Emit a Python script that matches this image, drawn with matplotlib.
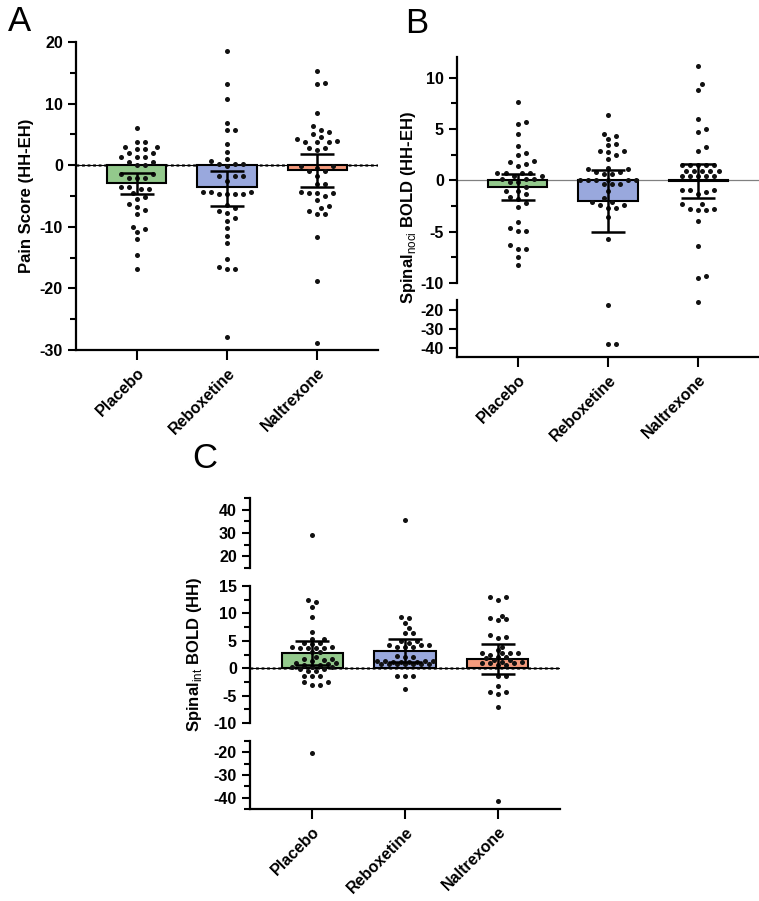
import numpy as np
from matplotlib import pyplot as plt
from matplotlib.ticker import MultipleLocator

plt.rcParams['font.family'] = ['Liberation Sans', 'DejaVu Sans']
plt.rcParams['mathtext.fontset'] = 'custom'
plt.rcParams['mathtext.rm'] = 'Liberation Sans'
plt.rcParams['mathtext.bf'] = 'Liberation Sans:bold'
plt.rcParams['axes.unicode_minus'] = False

groups = ["Placebo", "Reboxetine", "Naltrexone"]
colors = ["#93c98c", "#99a8dd", "#f59b7d"]

# panel A: pain score (HH-EH)
pain_placebo = [6.0, 3.7, 3.7, 3.0, 3.0, 2.6, 2.6, 2.0, 2.0, 1.4, 1.4, 1.4, 0.6, 0.6, 0.0, 0.0,
                -1.4, -2.0, -2.0, -2.0, -1.4, -3.5, -3.5, -3.9, -3.9, -4.5, -5.5, -5.2, -6.3,
                -6.8, -7.2, -7.9, -10.0, -10.3, -10.9, -12.0, -14.5, -16.9]
pain_reboxetine = [18.5, 13.2, 10.7, 6.8, 5.7, 5.7, 3.45, 2.2, 1.0, 0.7, 0.2, 0.2, 0.2, -0.2,
                   -1.7, -1.7, -1.7, -2.5, -4.3, -4.3, -4.3, -4.65, -4.65, -4.65, -4.65, -6.4,
                   -7.0, -7.5, -7.8, -8.5, -9.0, -10.2, -11.5, -12.6, -15.2, -16.6, -16.8,
                   -16.8, -27.9]
pain_naltrexone = [15.3, 13.4, 13.2, 8.5, 6.3, 5.7, 5.4, 5.0, 4.6, 4.3, 4.0, 3.7, 3.7, 3.7,
                   2.75, 2.75, 2.4, -0.2, -0.2, -0.4, -1.0, -1.0, -1.7, -3.0, -3.0, -4.3, -4.5,
                   -4.5, -4.5, -5.0, -5.7, -6.7, -7.0, -7.5, -7.9, -7.9, -11.7, -18.8, -28.9]
pain_mean = [-2.85, -3.6, -0.75]
pain_lo = [-4.75, -6.6, -3.6]
pain_hi = [-1.25, -0.9, 1.8]

# panel B: spinal noci BOLD (HH-EH)
noci_placebo = [7.6, 5.65, 5.5, 4.5, 3.3, 2.7, 2.45, 1.9, 1.8, 1.6, 1.4, 0.75, 0.75, 0.75, 0.75,
                0.4, 0.4, 0.1, 0.1, 0.1, -0.2, -0.2, -0.65, -1.0, -1.0, -1.35, -1.6, -1.8, -2.2,
                -2.6, -4.05, -4.65, -4.9, -4.9, -6.3, -6.65, -6.65, -7.45, -8.25]
noci_reboxetine = [6.35, 4.55, 4.35, 4.05, 3.55, 3.4, 2.85, 2.85, 2.75, 2.5, 2.1, 1.2, 1.05, 1.05,
                   0.8, 0.8, 0.6, 0.6, 0.0, 0.0, 0.0, 0.0, 0.0, 0.0, -0.4, -0.4, -0.4, -1.0,
                   -1.7, -2.1, -2.1, -2.4, -2.4, -2.7, -2.7, -3.6, -5.7, -17.6, -38.0, -38.0]
noci_naltrexone = [11.15, 9.4, 8.8, 6.0, 5.0, 4.7, 3.25, 2.85, 1.5, 1.5, 1.5, 1.5, 1.5, 0.95, 0.95,
                   0.95, 0.95, 0.95, 0.4, 0.4, 0.4, 0.4, 0.4, -0.9, -0.95, -0.95, -1.1, -1.35,
                   -2.3, -2.3, -2.75, -2.75, -2.9, -2.9, -4.0, -6.4, -9.3, -9.55, -15.8]
noci_mean = [-0.65, -2.0, -0.05]
noci_lo = [-1.9, -5.0, -1.7]
noci_hi = [0.6, 1.0, 1.55]

# panel C: spinal int BOLD (HH)
int_placebo = [29.3, 12.45, 12.0, 11.1, 9.4, 6.55, 5.35, 5.35, 4.55, 4.55, 4.4, 3.95, 3.95, 3.65,
               3.65, 3.65, 3.65, 2.9, 2.9, 2.1, 1.6, 1.6, 1.5, 1.4, 0.9, 0.9, 0.85, 0.6, 0.6,
               0.3, 0.3, 0.3, -0.2, -0.2, -0.6, -0.6, -1.4, -1.5, -1.5, -2.55, -2.55, -3.05,
               -3.05, -20.3]
int_reboxetine = [35.4, 9.4, 9.1, 8.2, 7.3, 6.4, 6.4, 4.9, 4.9, 4.6, 4.25, 4.25, 4.25, 3.95, 3.95,
                  3.95, 2.3, 2.0, 2.0, 1.4, 1.4, 1.4, 1.4, 1.2, 1.2, 1.2, 1.2, 0.8, 0.8, 0.8, 0.8,
                  0.8, 0.8, 0.8, -1.4, -1.4, -1.4, -3.8]
int_naltrexone = [12.95, 12.95, 12.45, 9.6, 9.1, 9.0, 8.8, 6.1, 5.75, 5.6, 3.95, 3.35, 2.7, 2.7,
                  2.7, 2.7, 2.4, 2.1, 2.1, 1.8, 1.5, 1.5, 1.2, 1.2, 0.9, 0.9, 0.9, 0.5, 0.5,
                  -1.35, -1.35, -3.2, -4.4, -4.4, -4.7, -7.0, -41.5]
int_mean = [2.7, 3.2, 1.6]
int_lo = [0.6, 1.2, -1.1]
int_hi = [5.0, 5.35, 4.5]

W, H = 759, 901


def swarm(vals, ppu, group_px, dot=5.0, step=8.0, max_px=28.0):
    # simple beeswarm in pixels, kept inside the bar width
    vals = np.asarray(vals, dtype=float)
    offs = np.zeros(len(vals))
    placed = []
    cands = [0.0]
    k = 1
    while k * step / 2 <= max_px:
        cands += [k * step / 2, -k * step / 2]
        k += 1
    for i in np.argsort(vals):
        y = vals[i] * ppu
        best, best_d = 0.0, -1.0
        for c in cands:
            d = min([np.hypot(c - px, y - py) for px, py in placed] + [99.0])
            if d >= dot:
                best = c
                break
            if d > best_d:
                best, best_d = c, d
        placed.append((best, y))
        offs[i] = best / group_px
    return offs


def axes_px(left, top, right, bottom):
    return plt.axes([left / W, 1 - bottom / H, (right - left) / W, (bottom - top) / H])


def draw(ax, data, mean, lo, hi, ppu, group_px, zero, dot):
    for i in range(3):
        ax.bar(i, mean[i], width=0.66, color=colors[i], edgecolor='k', linewidth=1.5, zorder=2)
        xs = i + swarm(data[i], ppu, group_px, dot=dot)
        ax.scatter(xs, data[i], s=13, color='#111111', linewidths=0, zorder=3)
        ax.errorbar(i, mean[i], yerr=[[mean[i] - lo[i]], [hi[i] - mean[i]]], color='k',
                    elinewidth=1.8, capsize=12, capthick=1.8, zorder=4)
    if zero == 'dotted':
        ax.axhline(0, color='0.35', lw=2.0, ls=(0, (1, 1)), zorder=1)
        ax.axhline(0, color='k', lw=0.8, zorder=1)
    else:
        ax.axhline(0, color='0.5', lw=0.9, zorder=1)
    ax.set_xlim(-0.67, 2.67)
    ax.spines[['top', 'right']].set_visible(False)
    for s in ['left', 'bottom']:
        ax.spines[s].set_linewidth(1.6)
    ax.tick_params(axis='y', which='major', length=6, width=1.5, labelsize=11.5)
    ax.tick_params(axis='y', which='minor', length=4, width=1.5)


def xaxis(ax, show):
    if show:
        ax.set_xticks(range(3))
        ax.set_xticklabels(groups, rotation=45, ha='right', va='top', rotation_mode='anchor',
                           fontsize=11.5, fontweight='bold')
        ax.tick_params(axis='x', length=7, width=1.5, pad=4)
    else:
        ax.spines['bottom'].set_visible(False)
        ax.set_xticks([])


def bold_yticks(ax):
    for t in ax.get_yticklabels():
        t.set_fontweight('bold')


fig = plt.figure(figsize=(W / 100, H / 100), dpi=100)

# A
axA = axes_px(76, 42, 378, 350)
axA.set_ylim(-30, 20)
axA.yaxis.set_major_locator(MultipleLocator(10))
axA.yaxis.set_minor_locator(MultipleLocator(5))
draw(axA, [pain_placebo, pain_reboxetine, pain_naltrexone], pain_mean, pain_lo, pain_hi,
     6.17, 90.5, 'dotted', 6.5)
xaxis(axA, True)
fig.text(27 / W, 1 - 196 / H, 'Pain Score (HH-EH)', rotation=90, ha='center', va='center',
         fontsize=12, fontweight='bold')

# B (broken axis)
noci = [noci_placebo, noci_reboxetine, noci_naltrexone]
axB1 = axes_px(457, 57, 759, 283)
axB1.set_ylim(-10, 12)
axB1.yaxis.set_major_locator(MultipleLocator(5))
axB1.yaxis.set_minor_locator(MultipleLocator(2.5))
draw(axB1, noci, noci_mean, noci_lo, noci_hi, 10.3, 90, 'solid', 6.5)
xaxis(axB1, False)
axB2 = axes_px(457, 300, 759, 357)
axB2.set_ylim(-45, -15)
axB2.set_yticks([-20, -30, -40])
draw(axB2, noci, noci_mean, noci_lo, noci_hi, 10.3, 90, 'solid', 6.5)
xaxis(axB2, True)
fig.text(408 / W, 1 - 207 / H, r'Spinal$_{\mathrm{noci}}$ BOLD (HH-EH)', rotation=90,
         ha='center', va='center', fontsize=12, fontweight='bold')

# C (two breaks)
ints = [int_placebo, int_reboxetine, int_naltrexone]
axC1 = axes_px(250, 498, 560, 568)
axC1.set_ylim(15, 45)
axC1.set_yticks([20, 30, 40])
axC1.yaxis.set_minor_locator(MultipleLocator(5))
draw(axC1, ints, int_mean, int_lo, int_hi, 5.48, 93, 'dotted', 5.0)
xaxis(axC1, False)
axC2 = axes_px(250, 586, 560, 723)
axC2.set_ylim(-10, 15)
axC2.yaxis.set_major_locator(MultipleLocator(5))
axC2.yaxis.set_minor_locator(MultipleLocator(2.5))
draw(axC2, ints, int_mean, int_lo, int_hi, 5.48, 93, 'dotted', 5.0)
xaxis(axC2, False)
axC3 = axes_px(250, 741, 560, 809)
axC3.set_ylim(-45, -15)
axC3.set_yticks([-20, -30, -40])
axC3.yaxis.set_minor_locator(MultipleLocator(5))
draw(axC3, ints, int_mean, int_lo, int_hi, 5.48, 93, 'dotted', 5.0)
xaxis(axC3, True)
fig.text(195 / W, 1 - 654 / H, r'Spinal$_{\mathrm{int}}$ BOLD (HH)', rotation=90,
         ha='center', va='center', fontsize=12, fontweight='bold')

for ax in [axA, axB1, axB2, axC1, axC2, axC3]:
    bold_yticks(ax)

fig.text(8 / W, 1 - 5 / H, 'A', fontsize=25, va='top')
fig.text(405 / W, 1 - 7 / H, 'B', fontsize=25, va='top')
fig.text(192 / W, 1 - 442 / H, 'C', fontsize=25, va='top')

plt.savefig('out.png', dpi=100)
